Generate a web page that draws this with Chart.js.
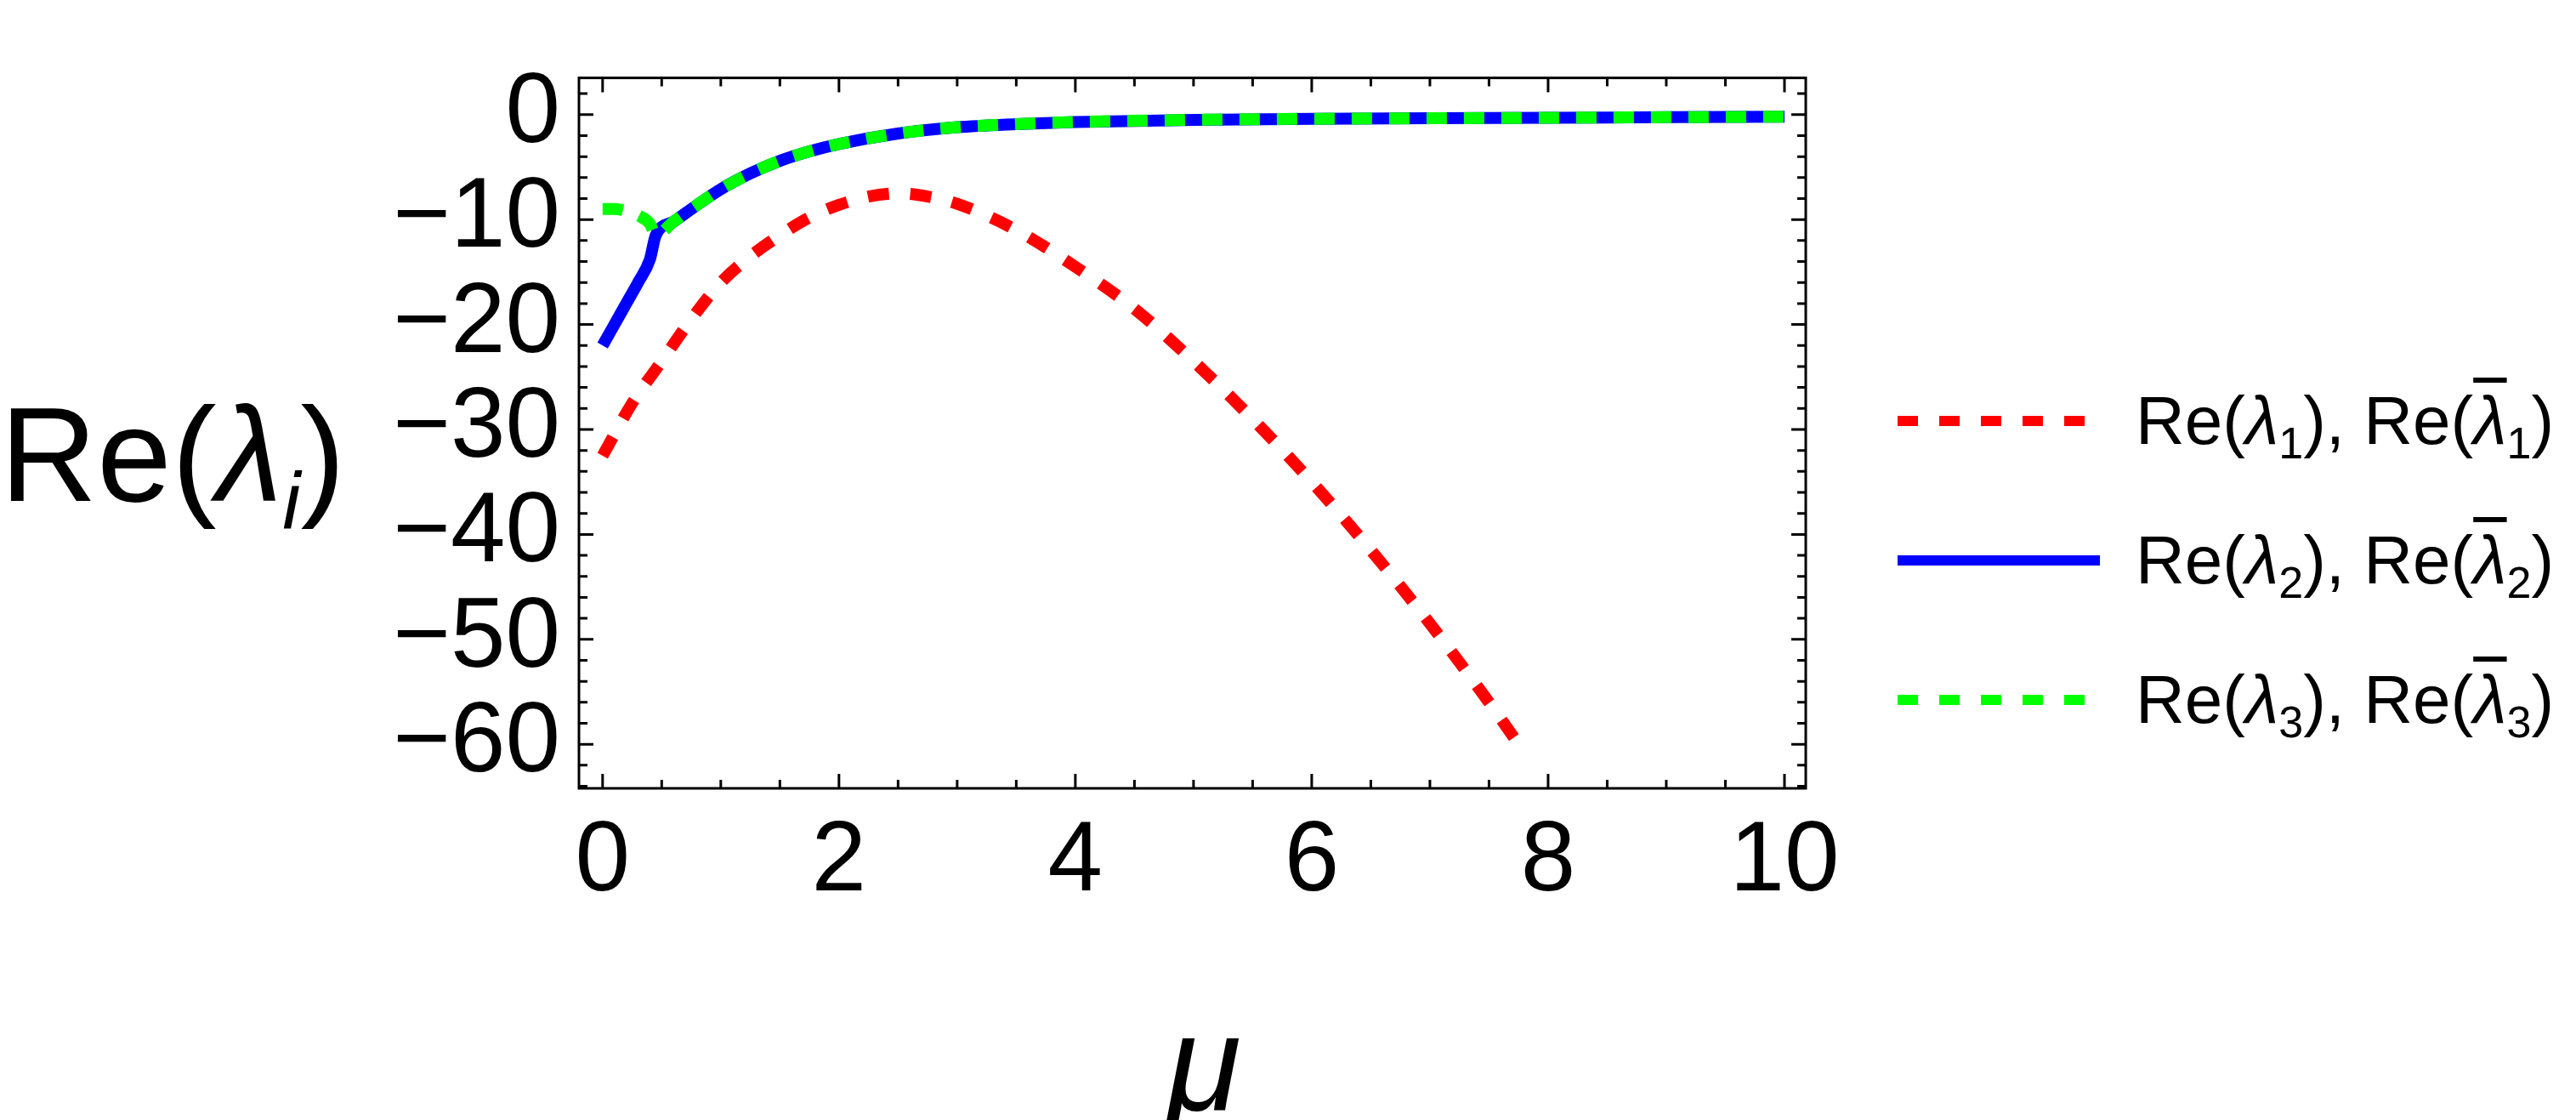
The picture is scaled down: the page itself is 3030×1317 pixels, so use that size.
<!DOCTYPE html>
<html><head><meta charset="utf-8">
<script src="https://cdn.jsdelivr.net/npm/chart.js@4"></script>
<style>
body{margin:0;background:#fff;width:3030px;height:1317px;overflow:hidden;font-family:"Liberation Sans",Arial,sans-serif}
#wrap{position:absolute;left:0;top:0;width:3030px;height:1317px}
.t{position:absolute;color:#000;white-space:nowrap}
.lg{font-size:80px;line-height:1}
.ob{text-decoration:overline;text-decoration-thickness:6px}
</style></head><body>
<div id="wrap"><canvas id="c" width="3030" height="1317"></canvas></div>
<div class="t" style="left:0;top:455px;font-size:158px;line-height:1">Re(<i>λ</i><sub style="font-size:95px"><i>i</i></sub>)</div>
<div class="t" style="left:1372px;top:1170px;font-size:160px;line-height:1"><i>μ</i></div>
<div class="t lg" style="left:2512px;top:455px">Re(<i>λ</i><sub style="font-size:52px">1</sub>), Re(<i class="ob">λ</i><sub style="font-size:52px">1</sub>)</div>
<div class="t lg" style="left:2512px;top:619px">Re(<i>λ</i><sub style="font-size:52px">2</sub>), Re(<i class="ob">λ</i><sub style="font-size:52px">2</sub>)</div>
<div class="t lg" style="left:2512px;top:783px">Re(<i>λ</i><sub style="font-size:52px">3</sub>), Re(<i class="ob">λ</i><sub style="font-size:52px">3</sub>)</div>
<script>
const muRed = [0,0.25,0.5,0.75,1,1.25,1.5,1.75,2,2.25,2.5,2.75,3,3.5,4,4.5,5,5.5,6,6.5,7,7.5,7.75];
const reRed = [-32.5,-27.5,-23.5,-19.5,-16,-13.5,-11.5,-9.8,-8.6,-7.8,-7.5,-7.8,-8.5,-11,-14.5,-18.5,-23.5,-29,-35,-41.5,-48.5,-56,-60];
const muBlue = [0,0.1,0.2,0.3,0.4,0.45,0.6,0.8,1,1.25,1.5,1.75,2,2.5,3,3.5,4,5,6,7,8,9,10];
const reBlue = [-22,-20,-18,-16,-13.8,-11.5,-10.2,-8.6,-7.1,-5.6,-4.4,-3.5,-2.8,-1.8,-1.2,-0.9,-0.7,-0.5,-0.4,-0.35,-0.3,-0.25,-0.2];
const muGreen = [0,0.1,0.2,0.3,0.4,0.45,0.6,0.8,1,1.25,1.5,1.75,2,2.5,3,3.5,4,5,6,7,8,9,10];
const reGreen = [-9,-9,-9.2,-9.6,-10.4,-11.5,-10.2,-8.6,-7.1,-5.6,-4.4,-3.5,-2.8,-1.8,-1.2,-0.9,-0.7,-0.5,-0.4,-0.35,-0.3,-0.25,-0.2];
const xTicks = [0,2,4,6,8,10];
const yTicks = [0,-10,-20,-30,-40,-50,-60];
const legendRowsY = [495,659,823];

const pts=(xs,ys)=>xs.map((x,i)=>({x,y:ys[i]}));
const ds=[
 {data:pts(muBlue,reBlue),borderColor:'#0000ff',borderWidth:14,borderDash:[],order:3},
 {data:pts(muGreen,reGreen),borderColor:'#00ff00',borderWidth:14,borderDash:[24,20],order:2},
 {data:pts(muRed,reRed),borderColor:'#ff0000',borderWidth:14,borderDash:[25,25],order:1}
].map(d=>Object.assign(d,{showLine:true,pointRadius:0,fill:false,cubicInterpolationMode:'monotone'}));

const frame={id:'frame',afterDraw(ch){
 const c=ch.ctx,a=ch.chartArea,xs=ch.scales.x,ys=ch.scales.y;
 c.save();c.strokeStyle='#000';c.lineWidth=3;c.setLineDash([]);
 c.strokeRect(a.left,a.top,a.right-a.left,a.bottom-a.top);
 for(let v=0;v<=10.0001;v+=0.5){const p=xs.getPixelForValue(v);const L=(Math.abs(v%2)<1e-6)?17:10;
  c.beginPath();c.moveTo(p,a.bottom);c.lineTo(p,a.bottom-L);c.moveTo(p,a.top);c.lineTo(p,a.top+L);c.stroke();}
 for(let v=-64;v<=2;v+=2){const p=ys.getPixelForValue(v);const L=(v%10===0)?17:10;
  c.beginPath();c.moveTo(a.left,p);c.lineTo(a.left+L,p);c.moveTo(a.right,p);c.lineTo(a.right-L,p);c.stroke();}
 const order=[2,0,1];
 order.forEach((di,i)=>{const d=ch.data.datasets[di];c.strokeStyle=d.borderColor;c.lineWidth=12;c.setLineDash(d.borderDash.length?[24,25]:[]);
  c.beginPath();c.moveTo(2232,legendRowsY[i]);c.lineTo(2470,legendRowsY[i]);c.stroke();});
 c.restore();}};

new Chart(document.getElementById('c'),{type:'scatter',data:{datasets:ds},
 options:{responsive:false,animation:false,devicePixelRatio:1,
  layout:{padding:{top:32,right:906,left:0,bottom:0}},
  plugins:{legend:{display:false},tooltip:{enabled:false}},
  scales:{
   x:{type:'linear',min:-0.2,max:10.18,afterBuildTicks:s=>{s.ticks=xTicks.map(v=>({value:v}))},
      afterFit:s=>{s.height=390},grid:{display:false,drawTicks:false},border:{display:false},
      ticks:{color:'#000',padding:18,autoSkip:false,maxRotation:0,font:{size:116,family:'Liberation Sans'},callback:v=>String(v)}},
   y:{type:'linear',min:-64.2,max:3.5,afterBuildTicks:s=>{s.ticks=yTicks.map(v=>({value:v}))},
      afterFit:s=>{s.width=681},grid:{display:false,drawTicks:false},border:{display:false},
      ticks:{color:'#000',padding:22,autoSkip:false,font:{size:116,family:'Liberation Sans'},callback:v=>String(v).replace('-','\u2212')}}
  }},plugins:[frame]});
</script></body></html>
